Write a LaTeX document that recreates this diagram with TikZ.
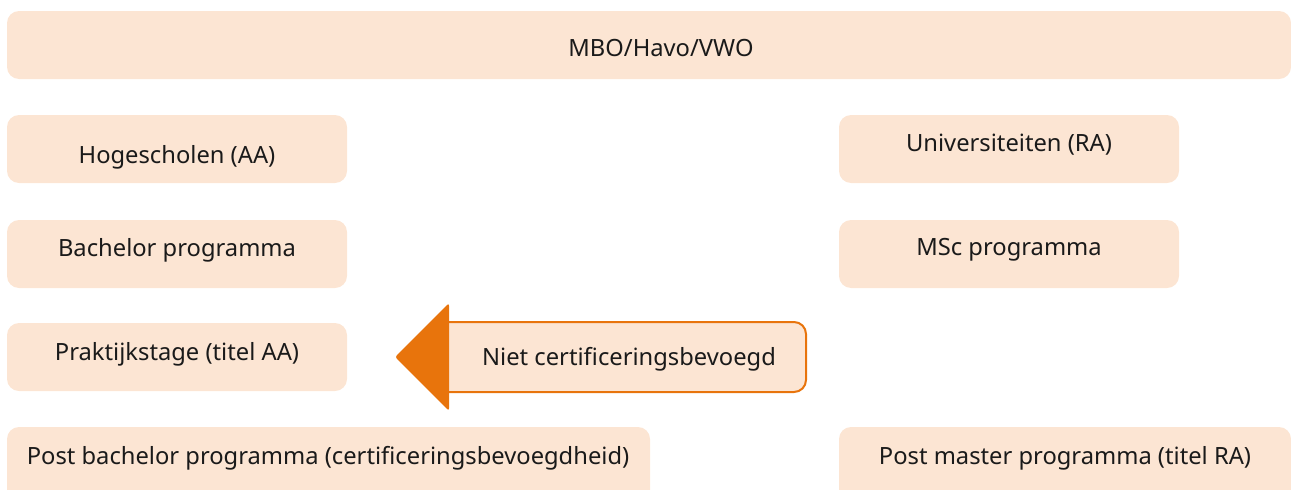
\documentclass[tikz,border=0pt]{standalone}
\usepackage{fontspec}
\setmainfont{Noto Sans}
\definecolor{boxfill}{HTML}{FCE5D3}
\definecolor{arrorange}{HTML}{E8740C}
\definecolor{txt}{HTML}{1A1A1A}
\tikzset{
  box/.style={fill=boxfill, rounded corners=9pt, minimum width={#1*0.75pt}, minimum height=51pt, inner sep=0pt},
  lbl/.style={text=txt, font=\fontsize{17.8}{20}\selectfont, inner sep=0pt}
}
\begin{document}
\begin{tikzpicture}
[x=0.75pt, y=-0.75pt]
\useasboundingbox (0,0) rectangle (1291,489);
\clip (0,0) rectangle (1291,489);
% top row
\node[box=1284] (school) at (649,45) {};
\node[lbl] (schooltxt) at (661,48) {MBO/Havo/VWO};
% left column
\node[box=340] (hoge) at (177,149) {};
\node[lbl] (hogetxt) at (177,157) {Hogescholen (AA)};
\node[box=340] (bach) at (177,254) {};
\node[lbl] (bachtxt) at (177,250) {Bachelor programma};
\node[box=340] (stage) at (177,357) {};
\node[lbl] (stagetxt) at (177,354) {Praktijkstage (titel AA)};
\fill[boxfill, rounded corners=9pt] (7,427) rectangle (650,505);
\node[lbl] (postbach) at (328,458) {Post bachelor programma (certificeringsbevoegdheid)};
% right column
\node[box=340] (uni) at (1009,149) {};
\node[lbl] (unitxt) at (1009,145) {Universiteiten (RA)};
\node[box=340] (msc) at (1009,254) {};
\node[lbl] (msctxt) at (1009,250) {MSc programma};
\fill[boxfill, rounded corners=9pt] (839,427) rectangle (1291,505);
\node[lbl] (postmas) at (1065,458) {Post master programma (titel RA)};
% arrow
\draw[draw=arrorange, fill=boxfill, line width=1.5pt] (447,322) [rounded corners=9pt] -- (806,322) -- (806,392) [sharp corners] -- (447,392);
\fill[arrorange, rounded corners=2pt] (449,303) -- (395,357) -- (449,411) -- cycle;
\node[lbl] (niet) at (629,359) {Niet certificeringsbevoegd};
\end{tikzpicture}
\end{document}
